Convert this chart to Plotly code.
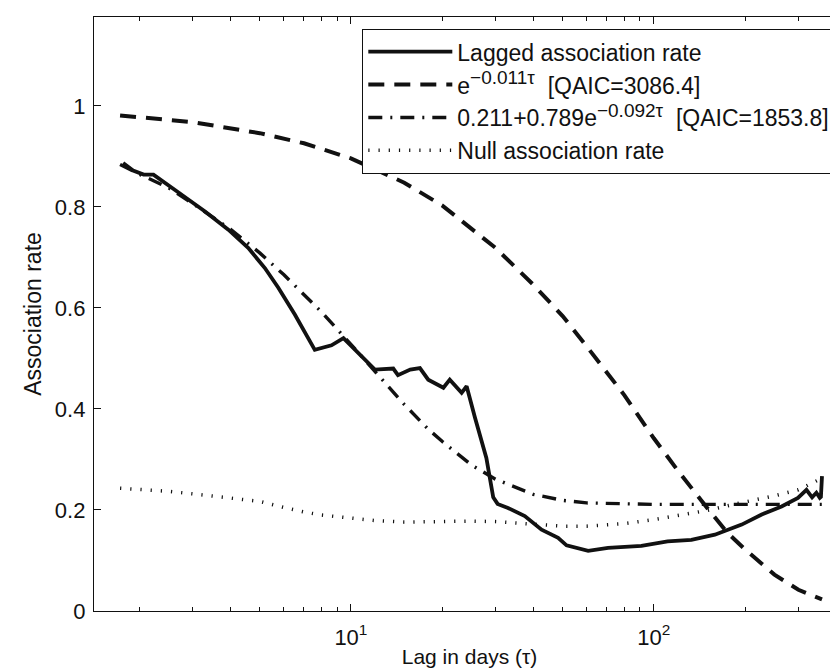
import plotly.graph_objects as go

# ---- data ----
tau_lag = [1.77, 1.91, 2.07, 2.23, 2.62, 3.30, 3.94, 4.58, 5.20, 5.76, 6.53, 7.60, 8.63, 9.45,
           12.0, 13.8, 14.3, 15.7, 16.9, 18.0, 20.2, 21.2, 23.2, 24.1, 25.7, 28.0, 29.5, 30.5,
           33.0, 37.5, 42.6, 48.3, 51.5, 60.7, 70.6, 91.0, 111, 133, 159, 195, 227, 264, 299,
           319, 333, 344, 353, 356, 359]
lag_rate = [0.887, 0.872, 0.864, 0.864, 0.834, 0.791, 0.755, 0.719, 0.679, 0.640, 0.587, 0.517,
            0.526, 0.540, 0.478, 0.480, 0.467, 0.478, 0.481, 0.458, 0.442, 0.458, 0.432, 0.445,
            0.382, 0.303, 0.225, 0.212, 0.204, 0.188, 0.161, 0.145, 0.130, 0.119, 0.125, 0.129,
            0.138, 0.141, 0.151, 0.171, 0.191, 0.207, 0.224, 0.240, 0.225, 0.234, 0.224, 0.226,
            0.267]

tau_exp = [1.73, 2, 3, 5, 7, 10, 15, 20, 30, 40, 50, 60, 70, 80, 100, 120, 150, 175, 200,
           250, 300, 359]
exp_rate = [0.981, 0.978, 0.968, 0.946, 0.926, 0.896, 0.848, 0.803, 0.719, 0.646, 0.584, 0.524,
            0.472, 0.427, 0.342, 0.278, 0.204, 0.155, 0.122, 0.072, 0.042, 0.023]

tau_dd = [1.73, 2, 2.5, 3, 4, 5, 6, 7, 8, 10, 12, 15, 18, 20, 25, 30, 40, 50, 60, 80, 100,
          150, 200, 300, 359]
dd_rate = [0.884, 0.865, 0.838, 0.807, 0.756, 0.709, 0.666, 0.627, 0.592, 0.528, 0.474, 0.409,
           0.360, 0.336, 0.289, 0.261, 0.231, 0.219, 0.214, 0.212, 0.211, 0.211, 0.211, 0.211,
           0.211]

tau_null = [1.73, 2, 2.5, 3, 3.5, 4, 5, 6, 7, 8, 10, 12, 15, 20, 25, 30, 35, 40, 50, 60, 70,
            80, 100, 120, 150, 200, 250, 300, 330, 359]
null_rate = [0.243, 0.241, 0.237, 0.232, 0.228, 0.224, 0.217, 0.205, 0.196, 0.190, 0.183, 0.179,
             0.176, 0.178, 0.178, 0.177, 0.174, 0.171, 0.168, 0.168, 0.170, 0.173, 0.181, 0.189,
             0.199, 0.216, 0.228, 0.240, 0.252, 0.263]

names = ["Lagged association rate",
         "e<sup><span style=\"font-size:19px\">\u22120.011\u03c4</span></sup>  [QAIC=3086.4]",
         "0.211+0.789e<sup><span style=\"font-size:19px\">\u22120.092\u03c4</span></sup>  [QAIC=1853.8]",
         "Null association rate"]

x_major = [10, 100]
x_major_text = ["10<sup>1</sup>", "10<sup>2</sup>"]
x_minor = [2, 3, 4, 5, 6, 7, 8, 9, 20, 30, 40, 50, 60, 70, 80, 90, 200, 300, 400]
y_ticks = [0, 0.2, 0.4, 0.6, 0.8, 1.0]
y_text = ["0", "0.2", "0.4", "0.6", "0.8", "1"]

FONT = "Liberation Sans, Arial, Helvetica, sans-serif"
BLACK = "#111111"

fig = go.Figure()
fig.add_trace(go.Scatter(x=tau_lag, y=lag_rate, mode="lines", name=names[0],
                         line=dict(color=BLACK, width=3.8)))
fig.add_trace(go.Scatter(x=tau_exp, y=exp_rate, mode="lines", name=names[1],
                         line=dict(color=BLACK, width=4, dash="16px,10px")))
fig.add_trace(go.Scatter(x=tau_dd, y=dd_rate, mode="lines", name=names[2],
                         line=dict(color=BLACK, width=3.4, dash="14px,8px,2px,8px")))
fig.add_trace(go.Scatter(x=tau_null, y=null_rate, mode="lines", name=names[3],
                         line=dict(color=BLACK, width=3.5, dash="1.2px,9px")))

fig.update_layout(
    width=838, height=671,
    margin=dict(l=86, r=1, t=9, b=68),
    paper_bgcolor="white", plot_bgcolor="white",
    font=dict(family=FONT, size=22, color=BLACK),
    showlegend=True,
    legend=dict(x=0.9867, y=0.98, xanchor="right", yanchor="top",
                bgcolor="white", bordercolor=BLACK, borderwidth=1.3,
                font=dict(family=FONT, size=23, color=BLACK),
                itemwidth=84, tracegroupgap=0),
)
fig.update_xaxes(
    type="log", range=[0.152, 2.631], automargin=False,
    showline=True, linecolor=BLACK, linewidth=1.3, mirror="allticks",
    showgrid=False, zeroline=False,
    ticks="inside", ticklen=7, tickwidth=1, tickcolor=BLACK,
    tickmode="array", tickvals=x_major, ticktext=x_major_text,
    tickfont=dict(family=FONT, size=22, color=BLACK),
    ticklabelstandoff=6,
    minor=dict(ticks="inside", ticklen=4, tickwidth=1, tickcolor=BLACK,
               tickmode="array", tickvals=x_minor, showgrid=False),
    title=dict(text="Lag in days (\u03c4)", font=dict(family=FONT, size=21, color=BLACK),
               standoff=0),
)
fig.update_yaxes(
    range=[0, 1.176], automargin=False,
    showline=True, linecolor=BLACK, linewidth=1.3, mirror="allticks",
    showgrid=False, zeroline=False,
    ticks="inside", ticklen=7, tickwidth=1, tickcolor=BLACK,
    tickmode="array", tickvals=y_ticks, ticktext=y_text,
    tickfont=dict(family=FONT, size=22, color=BLACK),
    ticklabelstandoff=3,
    title=dict(text="Association rate", font=dict(family=FONT, size=23, color=BLACK),
               standoff=6),
)

fig.write_html("out.html")
